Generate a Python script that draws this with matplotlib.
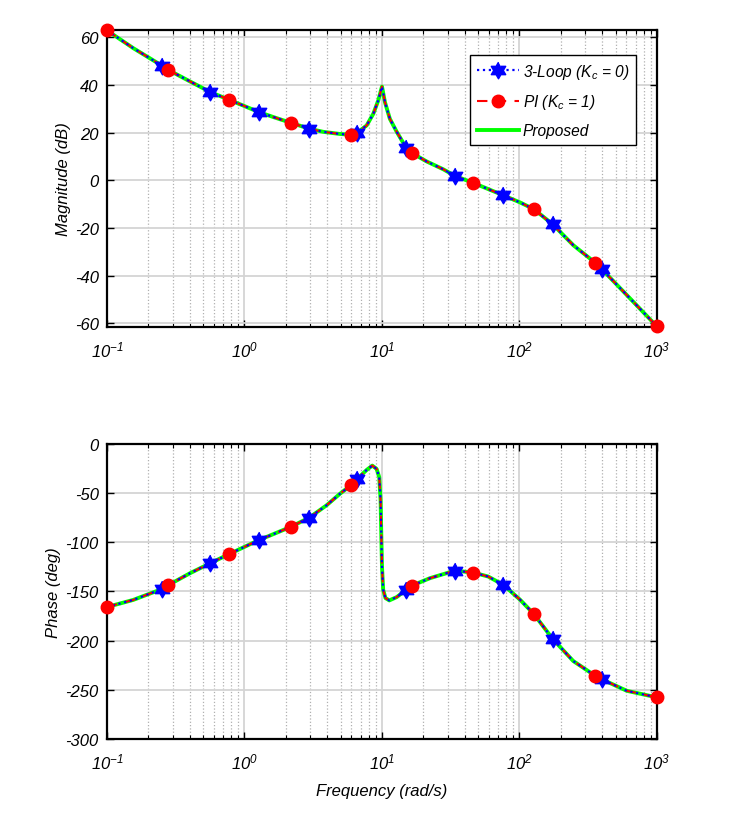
import numpy as np
import matplotlib
matplotlib.use("Agg")
import matplotlib.pyplot as plt
from matplotlib.lines import Line2D
from matplotlib.ticker import FixedLocator, FixedFormatter, LogLocator, NullFormatter

# magnitude curve (rad/s, dB)
mag_freq = [0.1, 0.155, 0.25, 0.276, 0.402, 0.563, 0.767, 0.98, 1.27, 1.62, 2.17, 2.96,
            3.74, 4.95, 5.92, 6.61, 7.1, 7.74, 8.65, 9.4, 10.0, 10.5, 11.4, 12.8, 15.0,
            16.4, 21.1, 27.9, 34.0, 46.1, 76.2, 101, 127, 174, 246, 356, 396, 603, 1000]
mag_db = [62.8, 55.4, 48.1, 46.4, 41.4, 37.0, 33.8, 31.3, 28.6, 26.5, 24.1, 21.6,
          20.3, 19.4, 19.1, 20.0, 21.3, 23.0, 27.9, 33.5, 39.3, 32.8, 25.8, 20.3, 13.6,
          11.5, 7.9, 4.6, 1.8, -1.1, -6.3, -9.3, -12.1, -18.4, -27.2, -34.6, -37.2, -48.1, -61.3]

# phase curve (rad/s, deg)
ph_freq = [0.1, 0.155, 0.25, 0.276, 0.402, 0.563, 0.767, 0.98, 1.27, 1.62, 2.17, 2.96,
           3.95, 4.95, 5.92, 6.61, 7.74, 8.5, 9.14, 9.55, 9.77, 9.88, 10.0, 10.2, 10.6,
           11.3, 12.8, 15.0, 16.4, 22.3, 34.0, 46.1, 59.2, 76.2, 101, 127, 174, 246,
           356, 396, 603, 1000]
ph_deg = [-165.8, -158.6, -147.6, -143.9, -131.4, -121.3, -112.2, -105.2, -97.8, -91.7,
          -84.3, -74.9, -62.4, -50.6, -42.2, -35.5, -26.4, -22.0, -25.4, -33.8, -57.4,
          -91.0, -124.7, -148.3, -156.7, -159.1, -155.7, -148.3, -144.2, -136.5, -128.8,
          -130.8, -134.8, -143.2, -158.4, -172.8, -198.1, -220.7, -235.8, -239.2, -251.0,
          -257.7]

# marker points of the two compared controllers
star_freq = [0.25, 0.563, 1.27, 2.96, 6.61, 15.0, 34.0, 76.2, 174, 396]
star_mag = [48.1, 37.0, 28.6, 21.6, 20.0, 13.6, 1.8, -6.3, -18.4, -37.2]
star_ph = [-147.6, -121.3, -97.8, -74.9, -35.5, -148.3, -128.8, -143.2, -198.1, -239.2]

pi_freq = [0.1, 0.276, 0.767, 2.17, 5.92, 16.4, 46.1, 127, 356, 1000]
pi_mag = [62.8, 46.4, 33.8, 24.1, 19.1, 11.5, -1.1, -12.1, -34.6, -61.3]
pi_ph = [-165.8, -143.9, -112.2, -84.3, -42.2, -144.2, -130.8, -172.8, -235.8, -257.7]

labels = [r"3-Loop ($K_c$ = 0)", r"PI ($K_c$ = 1)", "Proposed"]
xticks = [0.1, 1, 10, 100, 1000]
xticklabels = [r"$10^{-1}$", r"$10^{0}$", r"$10^{1}$", r"$10^{2}$", r"$10^{3}$"]

plt.rcParams["font.family"] = ["Liberation Sans", "DejaVu Sans"]
plt.rcParams["font.style"] = "italic"
plt.rcParams["font.size"] = 12
plt.rcParams["axes.unicode_minus"] = False
plt.rcParams["mathtext.fontset"] = "custom"
plt.rcParams["mathtext.rm"] = "Liberation Sans:italic"
plt.rcParams["mathtext.it"] = "Liberation Sans:italic"

GREEN = (0, 1, 0)

# hexagram marker like MATLAB's 'h'
ang = np.pi / 2 + np.arange(12) * np.pi / 6
rad = np.where(np.arange(12) % 2 == 0, 1.0, 0.577)
STAR = list(zip(rad * np.cos(ang), rad * np.sin(ang)))

fig = plt.figure(figsize=(7.39, 8.28), dpi=100)
ax1 = fig.add_axes([0.1448, 0.6039, 0.7442, 0.3587])
ax2 = fig.add_axes([0.1448, 0.1063, 0.7442, 0.3563])


def draw(ax, freq, vals, s_vals, p_vals):
    ax.plot(freq, vals, color=GREEN, lw=2.8, zorder=2)
    ax.plot(freq, vals, color="r", ls="--", dashes=(5, 4), lw=1.5, zorder=3)
    ax.plot(freq, vals, color="b", ls=":", lw=1.6, zorder=4)
    ax.plot(star_freq, s_vals, ls="none", marker=STAR, ms=12, color="b", zorder=5, clip_on=False)
    ax.plot(pi_freq, p_vals, ls="none", marker="o", ms=9, color="r", zorder=6, clip_on=False)


def style(ax):
    ax.set_xscale("log")
    ax.set_xlim(0.1, 1000)
    ax.xaxis.set_major_locator(FixedLocator(xticks))
    ax.xaxis.set_major_formatter(FixedFormatter(xticklabels))
    ax.xaxis.set_minor_locator(LogLocator(base=10, subs=range(2, 10)))
    ax.xaxis.set_minor_formatter(NullFormatter())
    ax.set_axisbelow(True)
    ax.grid(True, which="major", color="#d4d4d4", lw=1.3, ls="-")
    ax.xaxis.grid(True, which="minor", color="#b0b0b0", lw=0.9, ls=":")
    ax.tick_params(which="both", direction="in", top=True, right=True, labelsize=12)
    ax.tick_params(which="major", length=5, width=1.0)
    ax.tick_params(which="minor", length=3, width=0.8)
    ax.tick_params(axis="x", pad=9)
    ax.tick_params(axis="y", pad=6)
    for sp in ax.spines.values():
        sp.set_linewidth(1.6)


draw(ax1, mag_freq, mag_db, star_mag, pi_mag)
style(ax1)
ax1.set_ylim(-61.5, 63)
ax1.set_yticks(range(-60, 61, 20))
ax1.set_ylabel("Magnitude (dB)")
ax1.yaxis.set_label_coords(-0.066, 0.5)

handles = [
    Line2D([], [], color="b", ls=":", lw=1.6, marker=STAR, ms=12),
    Line2D([], [], color="r", ls="--", dashes=(5, 4), lw=1.5, marker="o", ms=9),
    Line2D([], [], color=GREEN, lw=2.8),
]
leg = ax1.legend(handles, labels, loc="upper right", bbox_to_anchor=(0.962, 0.917),
                 borderaxespad=0, fancybox=False, framealpha=1, edgecolor="k",
                 handlelength=2.7, fontsize=11.2, labelspacing=0.75, handletextpad=0.2,
                 borderpad=0.45)
leg.get_frame().set_linewidth(1.0)

draw(ax2, ph_freq, ph_deg, star_ph, pi_ph)
style(ax2)
ax2.set_ylim(-300, 0)
ax2.set_yticks(range(-300, 1, 50))
ax2.set_ylabel("Phase (deg)")
ax2.yaxis.set_label_coords(-0.084, 0.5)
ax2.set_xlabel("Frequency (rad/s)")
ax2.xaxis.set_label_coords(0.5, -0.15)

fig.savefig("out.png", dpi=100)
